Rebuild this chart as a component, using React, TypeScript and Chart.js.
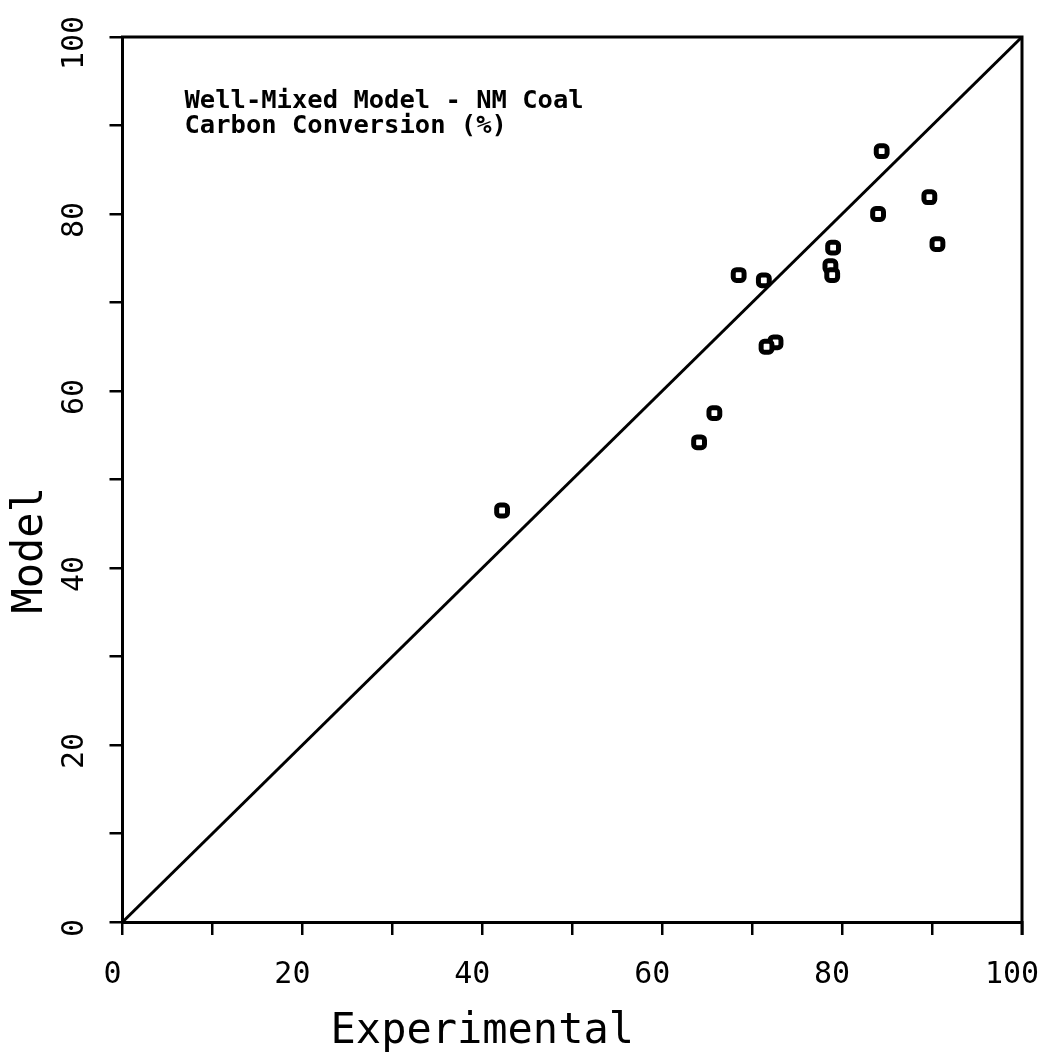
import React, { useEffect, useRef } from "react";
import { Chart, registerables } from "chart.js";

Chart.register(...registerables);

// Data
const experimental = [84.4, 89.7, 84.0, 90.6, 79.0, 78.7, 78.9, 68.5, 71.3, 72.6, 71.6, 65.8, 64.1, 42.2];
const model = [87.1, 81.9, 80.0, 76.6, 76.2, 74.1, 73.1, 73.1, 72.5, 65.5, 65.0, 57.5, 54.2, 46.5];
const parityLine = [0, 100];
const xTickLabels = [0, 20, 40, 60, 80, 100];
const yTickLabels = [0, 20, 40, 60, 80, 100];
const annotationLines = ["Well-Mixed Model - NM Coal", "Carbon Conversion (%)"];
const xTitle = "Experimental";
const yTitle = "Model";

const MONO = '"DejaVu Sans Mono", "Liberation Mono", monospace';

const overlayPlugin = {
  id: "overlay",
  afterDraw(chart: any) {
    const { ctx, chartArea: a, scales } = chart;
    const x = scales.x;
    const y = scales.y;
    ctx.save();
    // top and right frame
    ctx.strokeStyle = "#000";
    ctx.lineWidth = 3;
    ctx.beginPath();
    ctx.moveTo(a.left - 1.5, a.top);
    ctx.lineTo(a.right, a.top);
    ctx.lineTo(a.right, a.bottom + 13);
    ctx.stroke();

    ctx.fillStyle = "#000";
    ctx.font = `30px ${MONO}`;
    ctx.textAlign = "center";
    ctx.textBaseline = "alphabetic";
    xTickLabels.forEach((v) => {
      ctx.fillText(String(v), x.getPixelForValue(v) - 10, a.bottom + 61);
    });
    yTickLabels.forEach((v) => {
      ctx.save();
      ctx.translate(a.left - 39.5, y.getPixelForValue(v) + 6);
      ctx.rotate(-Math.PI / 2);
      ctx.fillText(String(v), 0, 0);
      ctx.restore();
    });

    // axis titles
    ctx.font = `42px ${MONO}`;
    ctx.fillText(xTitle, x.getPixelForValue(40), a.bottom + 121);
    ctx.save();
    ctx.translate(a.left - 80.5, y.getPixelForValue(42));
    ctx.rotate(-Math.PI / 2);
    ctx.fillText(yTitle, 0, 0);
    ctx.restore();

    // annotation
    ctx.font = `bold 25.5px ${MONO}`;
    ctx.textAlign = "left";
    annotationLines.forEach((line, i) => {
      ctx.fillText(line, a.left + 62, a.top + 71 + i * 25);
    });
    ctx.restore();
  },
};

export default function App() {
  const canvasRef = useRef<HTMLCanvasElement | null>(null);

  useEffect(() => {
    document.body.style.margin = "0";
    if (!canvasRef.current) return;
    const points = experimental.map((v, i) => ({ x: v, y: model[i] }));
    const line = parityLine.map((v) => ({ x: v, y: v }));
    const chart = new Chart(canvasRef.current, {
      type: "scatter",
      data: {
        datasets: [
          {
            type: "line",
            data: line,
            borderColor: "#000",
            borderWidth: 3,
            pointRadius: 0,
            fill: false,
          } as any,
          {
            data: points,
            pointStyle: "rectRounded",
            pointRadius: 6.3,
            pointHoverRadius: 6.3,
            pointBorderWidth: 5,
            pointBackgroundColor: "#fff",
            pointBorderColor: "#000",
          } as any,
        ],
      },
      options: {
        animation: false,
        responsive: false,
        events: [],
        layout: { padding: { left: 109.5, top: 37, right: 42, bottom: 120 } },
        plugins: { legend: { display: false }, tooltip: { enabled: false } },
        scales: {
          x: {
            type: "linear",
            min: 0,
            max: 100,
            ticks: { stepSize: 10, display: false },
            grid: { drawOnChartArea: false, drawTicks: true, tickLength: 13, color: "#000", lineWidth: 2.5 },
            border: { display: true, color: "#000", width: 3 },
          },
          y: {
            type: "linear",
            min: 0,
            max: 100,
            ticks: { stepSize: 10, display: false },
            grid: { drawOnChartArea: false, drawTicks: true, tickLength: 13, color: "#000", lineWidth: 2.5 },
            border: { display: true, color: "#000", width: 3 },
          },
        },
      },
      plugins: [overlayPlugin],
    });
    return () => chart.destroy();
  }, []);

  return (
    <div style={{ width: 1064, height: 1055 }}>
      <canvas ref={canvasRef} width={1064} height={1055} style={{ display: "block" }} />
    </div>
  );
}
